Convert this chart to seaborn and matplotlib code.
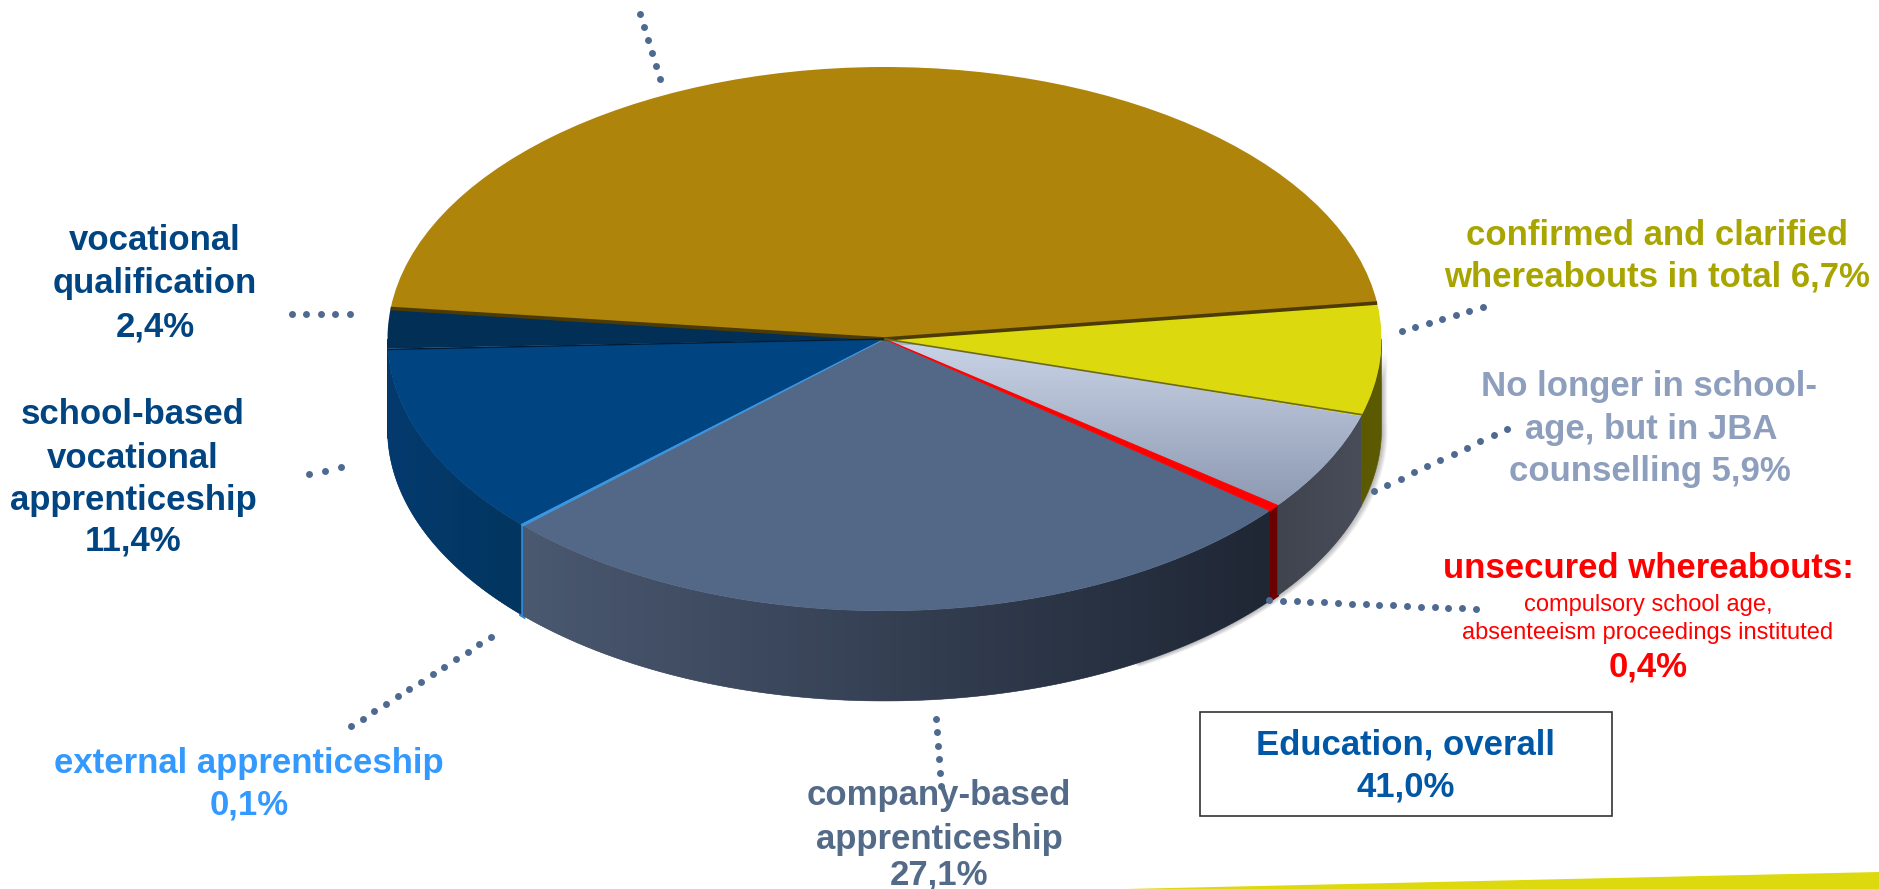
"""3D looking pie of whereabouts shares, drawn from a flat seaborn/matplotlib pie."""

import matplotlib

matplotlib.use("Agg")
import matplotlib.pyplot as plt
import numpy as np
import seaborn as sns
from matplotlib.patches import Polygon, Rectangle

# values, counter clockwise from the large unlabelled slice
slice_names = [
    "unlabelled",
    "vocational qualification",
    "school-based vocational apprenticeship",
    "external apprenticeship",
    "company-based apprenticeship",
    "unsecured whereabouts",
    "No longer in school-age",
    "confirmed and clarified",
]
slice_values = [46.1, 2.4, 11.4, 0.1, 27.1, 0.4, 5.9, 6.7]
top_colors = ["#ae840b", "#022f56", "#004481", "#3a94de", "#526886", "#ff0000", "#a9b5cc", "#dcd90e"]
wall_left = ["#6e5307", "#022f56", "#043a6e", "#3288d0", "#4a5870", "#6a0000", "#3f444f", "#5c5a00"]
wall_right = ["#6e5307", "#022f56", "#02365f", "#3288d0", "#1f2735", "#6a0000", "#484d59", "#5c5a00"]
edge_widths = [0, 0, 0, 0.8, 0, 0.7, 0, 0]
wall_edge_widths = [0, 0, 0, 3.0, 0, 2.0, 0, 0]

W, H = 1879, 889
CX, CY, RX, RY = 884.5, 339, 497, 272
DEPTH = 90
START = 7.6
SY = RX / RY  # pixel to stretched y units, so the round pie turns into an ellipse

sns.set_theme(style="white")
plt.rcParams["font.family"] = ["Liberation Sans", "DejaVu Sans"]

fig = plt.figure(figsize=(W / 100, H / 100), dpi=100, facecolor="white")
ax = fig.add_axes([0, 0, 1, 1])
wedges, _ = ax.pie(
    slice_values,
    colors=top_colors,
    startangle=START,
    center=(CX, (H - CY) * SY),
    radius=RX,
    wedgeprops={"linewidth": 0, "zorder": 3},
)
for w, lw in zip(wedges, edge_widths):
    if lw:
        w.set_edgecolor(w.get_facecolor())
        w.set_linewidth(lw)
        w.set_zorder(3.8)
ax.set_aspect("auto")
ax.axis("off")


def rim(theta, drop=0.0):
    t = np.radians(theta)
    return CX + RX * np.cos(t), (H - CY - drop) * SY + RX * np.sin(t)


# soft shadow right of the wall
for k in range(1, 7):
    th = np.linspace(300, 362, 60)
    x0, y0 = rim(th, 0)
    x1, y1 = rim(th[::-1], DEPTH)
    pts = np.r_[np.c_[x0 + k, y0 - k * SY * 0.4], np.c_[x1 + k, y1 - k * SY * 0.4]]
    ax.add_patch(Polygon(pts, fc="black", ec="none", alpha=0.05, zorder=0.5))

# walls of the front half, one polygon per slice with a gradient clipped to it
for w, c0, c1, lw in zip(wedges, wall_left, wall_right, wall_edge_widths):
    a, b = max(w.theta1, 180), min(w.theta2, 360)
    if b <= a:
        continue
    th = np.linspace(a, b, 80)
    x0, y0 = rim(th, 0)
    x1, y1 = rim(th[::-1], DEPTH)
    pts = np.r_[np.c_[x0, y0], np.c_[x1, y1]]
    ax.add_patch(Polygon(pts, fc=c0, ec=c0, lw=lw if lw else 0.4, zorder=1))
    if c0 != c1:
        wall = Polygon(pts, fc="none", ec="none", transform=ax.transData)
        ax.add_patch(wall)
        shade = np.array(sns.blend_palette([c0, c1], 128))[None, :, :]
        grad = ax.imshow(
            shade,
            extent=(pts[:, 0].min(), pts[:, 0].max(), pts[:, 1].min(), pts[:, 1].max()),
            aspect="auto",
            zorder=1.5,
        )
        grad.set_clip_path(wall)

# gradient on the light slice
light = wedges[6]
ramp = np.array(sns.blend_palette(["#c8d2e6", "#8996ae"], 128))[:, None, :]
im = ax.imshow(
    ramp,
    extent=(860, 1400, (H - 515) * SY, (H - 345) * SY),
    origin="upper",
    aspect="auto",
    zorder=3.5,
)
im.set_clip_path(light)
ax.set_xlim(0, W)
ax.set_ylim(0, H * SY)

# dark seams along the slice edges
cuts = START + np.cumsum([0] + slice_values) * 3.6
for idx, col, lw in [(0, "#4d3b05", 2.6), (1, "#4d3b05", 2.6), (2, "#011d38", 1.0), (7, "#6b6a20", 1.2)]:
    x, y = rim(cuts[idx])
    ax.plot([CX, x], [(H - CY) * SY, y], color=col, lw=lw, solid_capstyle="butt", zorder=4)

# overlay in pixel coordinates for labels and leaders
ov = fig.add_axes([0, 0, 1, 1], facecolor="none")
ov.set_xlim(0, W)
ov.set_ylim(H, 0)
ov.axis("off")

# yellow band along the bottom edge
ov.add_patch(Polygon([(1126, 889), (1879, 872), (1879, 889)], fc="#dcd90e", ec="none"))

leaders = [
    ((640, 14), (660, 79), 6),
    ((292, 314), (350, 314), 5),
    ((309, 474), (341, 467), 3),
    ((351, 726), (491, 637), 13),
    ((936, 719), (941, 786), 6),
    ((1269, 600), (1476, 609), 16),
    ((1374, 491), (1507, 429), 11),
    ((1402, 331), (1483, 307), 7),
]
for p0, p1, n in leaders:
    ov.plot(np.linspace(p0[0], p1[0], n), np.linspace(p0[1], p1[1], n), ls="", marker="o", ms=5, mew=0, color="#4f6a90")

BIG = 25


def label(x, y, s, color, size=BIG, weight="bold"):
    ov.text(x, y + 3.5, s, color=color, fontsize=size, fontweight=weight, ha="center", va="center")


for y, s in [(237, "vocational"), (280, "qualification"), (323, "2,4%")]:
    label(155, y, s, "#004481")
for y, s in [(411, "school-based"), (455, "vocational"), (497, "apprenticeship"), (538, "11,4%")]:
    label(133, y, s, "#004481")
for y, s in [(760, "external apprenticeship"), (802, "0,1%")]:
    label(249, y, s, "#3399ff")
for y, s in [(792, "company-based"), (836, "apprenticeship"), (871, "27,1%")]:
    label(939, y, s, "#536a88")
for y, s in [(232, "confirmed and clarified"), (273, "whereabouts in total 6,7%")]:
    label(1657, y, s, "#a9a500")
for x, y, s in [(1649, 383, "No longer in school-"), (1651, 426, "age, but in JBA"), (1650, 468, "counselling 5,9%")]:
    label(x, y, s, "#8e9fbd")
label(1648, 565, "unsecured whereabouts:", "#ff0000")
label(1648, 601, "compulsory school age,", "#ff0000", size=17, weight="normal")
label(1648, 629, "absenteeism proceedings instituted", "#ff0000", size=17, weight="normal")
label(1648, 664, "0,4%", "#ff0000")

ov.add_patch(Rectangle((1200, 712), 412, 104, fc="white", ec="#333333", lw=1.2))
label(1406, 741, "Education, overall", "#0057a6")
label(1406, 783, "41,0%", "#0057a6")

fig.savefig("out.png", dpi=100)
